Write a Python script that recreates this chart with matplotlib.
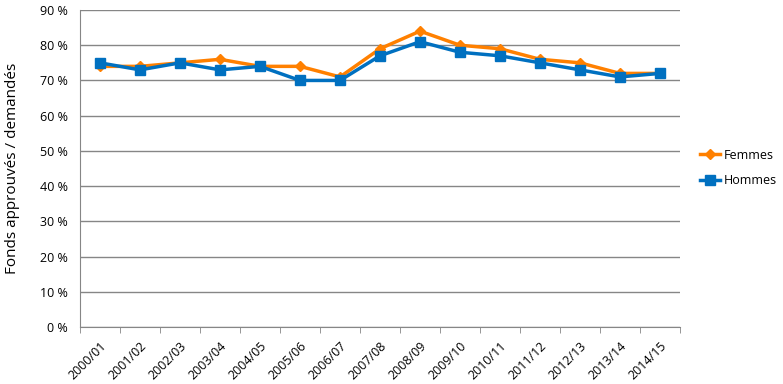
import numpy as np
import matplotlib.pyplot as plt
import matplotlib.ticker as mticker

periods = ["2000/01", "2001/02", "2002/03", "2003/04", "2004/05", "2005/06",
           "2006/07", "2007/08", "2008/09", "2009/10", "2010/11", "2011/12",
           "2012/13", "2013/14", "2014/15"]
femmes = [74, 74, 75, 76, 74, 74, 71, 79, 84, 80, 79, 76, 75, 72, 72]
hommes = [75, 73, 75, 73, 74, 70, 70, 77, 81, 78, 77, 75, 73, 71, 72]

ORANGE = "#FF8000"
BLUE = "#0070C0"
GRID = "#868686"
FONT = ["Open Sans", "DejaVu Sans"]

plt.rcParams["font.family"] = FONT

fig = plt.figure(figsize=(7.83, 3.84), dpi=100)
ax = fig.add_axes([80 / 783, 57 / 384, 600 / 783, 317 / 384])

x = np.arange(len(periods))
ax.plot(x, femmes, color=ORANGE, lw=2.5, marker="D", ms=5, label="Femmes", zorder=3)
ax.plot(x, hommes, color=BLUE, lw=2.5, marker="s", ms=7, label="Hommes", zorder=4)

ax.set_xlim(-0.5, len(periods) - 0.5)
ax.set_ylim(0, 90)
ax.yaxis.set_major_locator(mticker.MultipleLocator(10))
ax.yaxis.set_major_formatter(mticker.FuncFormatter(lambda v, p: f"{v:.0f} %"))
ax.grid(axis="y", color=GRID, lw=1)
ax.set_axisbelow(True)

ax.set_xticks(x)
ax.set_xticklabels(periods, rotation=45, ha="right", rotation_mode="anchor")
ax.set_xticks(np.arange(len(periods) + 1) - 0.5, minor=True)
ax.tick_params(axis="x", which="major", length=0, pad=9, labelsize=9)
ax.tick_params(axis="x", which="minor", length=4, color=GRID)
ax.tick_params(axis="y", length=0, labelsize=9, pad=9)

for side in ["top", "right"]:
    ax.spines[side].set_visible(False)
ax.spines["left"].set_color(GRID)
ax.spines["bottom"].set_color(GRID)

ax.set_ylabel("Fonds approuvés / demandés", fontsize=11, labelpad=14)

fig.legend(loc="center left", bbox_to_anchor=(700 / 783, 1 - 168 / 384), frameon=False,
           fontsize=9, handlelength=1.6, handletextpad=0.3, labelspacing=1.0,
           borderaxespad=0, borderpad=0)

fig.savefig("out.png", dpi=100)
